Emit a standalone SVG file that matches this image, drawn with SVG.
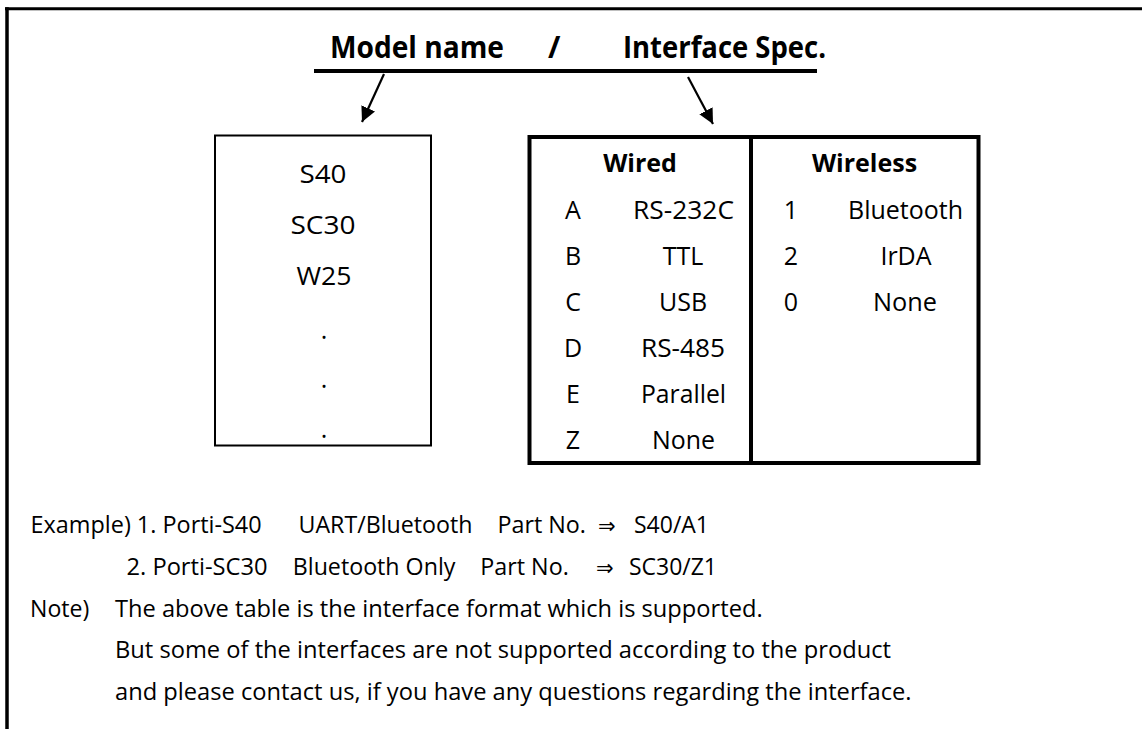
<svg xmlns="http://www.w3.org/2000/svg" width="1142" height="729" viewBox="0 0 1142 729">
<style>
text{font-family:"Open Sans","Noto Sans","Noto Sans CJK KR",sans-serif;fill:#000}
.ttl{font-size:30px;font-weight:700}
.hd{font-size:25px;font-weight:700;text-anchor:middle}
.cell{font-size:25px;text-anchor:middle}
.mdl{font-size:25px;text-anchor:middle}
.note{font-size:23px}
.sym{font-family:"DejaVu Sans",sans-serif;font-size:21px}
.frame{stroke:#000;fill:none}
.conn{stroke:#000;stroke-width:2.2;fill:none;marker-end:url(#ah)}
</style>
<defs>
<marker id="ah" markerUnits="userSpaceOnUse" markerWidth="18" markerHeight="18" refX="15" refY="7.5" orient="auto">
<path d="M0,0 L15,7.5 L0,15 z" fill="#000"/>
</marker>
</defs>
<rect width="1142" height="729" fill="#fff"/>
<g id="frame">
<line class="frame" x1="5" y1="8.7" x2="1142" y2="8.7" stroke-width="3"/>
<line class="frame" x1="7" y1="7.2" x2="7" y2="729" stroke-width="3.5"/>
</g>
<g id="title">
<text class="ttl" x="330" y="58" textLength="174" lengthAdjust="spacingAndGlyphs">Model name</text>
<text class="ttl" x="548" y="58">/</text>
<text class="ttl" x="623" y="58" textLength="203" lengthAdjust="spacingAndGlyphs">Interface Spec.</text>
<line x1="314" y1="71" x2="817" y2="71" stroke="#000" stroke-width="4.2"/>
</g>
<g id="connectors">
<line class="conn" x1="384" y1="74" x2="362" y2="122"/>
<line class="conn" x1="688" y1="77" x2="713" y2="124"/>
</g>
<g id="model-box">
<rect x="215" y="135.5" width="216" height="310" fill="none" stroke="#000" stroke-width="2"/>
<text class="mdl" x="323" y="183" textLength="47" lengthAdjust="spacingAndGlyphs">S40</text>
<text class="mdl" x="323" y="234" textLength="65" lengthAdjust="spacingAndGlyphs">SC30</text>
<text class="mdl" x="324" y="285" textLength="55" lengthAdjust="spacingAndGlyphs">W25</text>
<text class="mdl" x="324" y="338.5">.</text>
<text class="mdl" x="324" y="388">.</text>
<text class="mdl" x="324" y="437.5">.</text>
</g>
<g id="interface-table">
<rect x="529.5" y="137" width="449" height="326" fill="none" stroke="#000" stroke-width="4"/>
<line x1="751" y1="137" x2="751" y2="463" stroke="#000" stroke-width="4"/>
<text class="hd" x="640" y="172">Wired</text>
<text class="hd" x="864.5" y="172">Wireless</text>
<text class="cell" x="573" y="219">A</text>
<text class="cell" x="683.5" y="219" textLength="101" lengthAdjust="spacingAndGlyphs">RS-232C</text>
<text class="cell" x="573" y="265">B</text>
<text class="cell" x="683" y="265">TTL</text>
<text class="cell" x="573" y="311">C</text>
<text class="cell" x="683" y="311">USB</text>
<text class="cell" x="573" y="357">D</text>
<text class="cell" x="683" y="357" textLength="84" lengthAdjust="spacingAndGlyphs">RS-485</text>
<text class="cell" x="573" y="403">E</text>
<text class="cell" x="683.5" y="403" textLength="85" lengthAdjust="spacingAndGlyphs">Parallel</text>
<text class="cell" x="573" y="449">Z</text>
<text class="cell" x="683.5" y="449" textLength="63" lengthAdjust="spacingAndGlyphs">None</text>
<text class="cell" x="791" y="219">1</text>
<text class="cell" x="905.5" y="219" textLength="115" lengthAdjust="spacingAndGlyphs">Bluetooth</text>
<text class="cell" x="791" y="265">2</text>
<text class="cell" x="906" y="265">IrDA</text>
<text class="cell" x="791" y="311">0</text>
<text class="cell" x="905" y="311" textLength="64" lengthAdjust="spacingAndGlyphs">None</text>
</g>
<g id="notes">
<text class="note" x="30.6" y="533" textLength="231" lengthAdjust="spacingAndGlyphs">Example) 1. Porti-S40</text>
<text class="note" x="298.5" y="533" textLength="174" lengthAdjust="spacingAndGlyphs">UART/Bluetooth</text>
<text class="note" x="497.5" y="533" textLength="88.5" lengthAdjust="spacingAndGlyphs">Part No.</text>
<text class="sym" x="598" y="533">⇒</text>
<text class="note" x="634" y="533" textLength="75" lengthAdjust="spacingAndGlyphs">S40/A1</text>
<text class="note" x="126.5" y="575" textLength="141" lengthAdjust="spacingAndGlyphs">2. Porti-SC30</text>
<text class="note" x="292.8" y="575" textLength="162.6" lengthAdjust="spacingAndGlyphs">Bluetooth Only</text>
<text class="note" x="480.3" y="575" textLength="88.5" lengthAdjust="spacingAndGlyphs">Part No.</text>
<text class="sym" x="596" y="575">⇒</text>
<text class="note" x="629" y="575" textLength="88" lengthAdjust="spacingAndGlyphs">SC30/Z1</text>
<text class="note" x="30" y="617" textLength="59.3" lengthAdjust="spacingAndGlyphs">Note)</text>
<text class="note" x="115" y="617" textLength="647.6" lengthAdjust="spacingAndGlyphs">The above table is the interface format which is supported.</text>
<text class="note" x="115" y="658" textLength="776" lengthAdjust="spacingAndGlyphs">But some of the interfaces are not supported according to the product</text>
<text class="note" x="115" y="700" textLength="796.6" lengthAdjust="spacingAndGlyphs">and please contact us, if you have any questions regarding the interface.</text>
</g>
</svg>
